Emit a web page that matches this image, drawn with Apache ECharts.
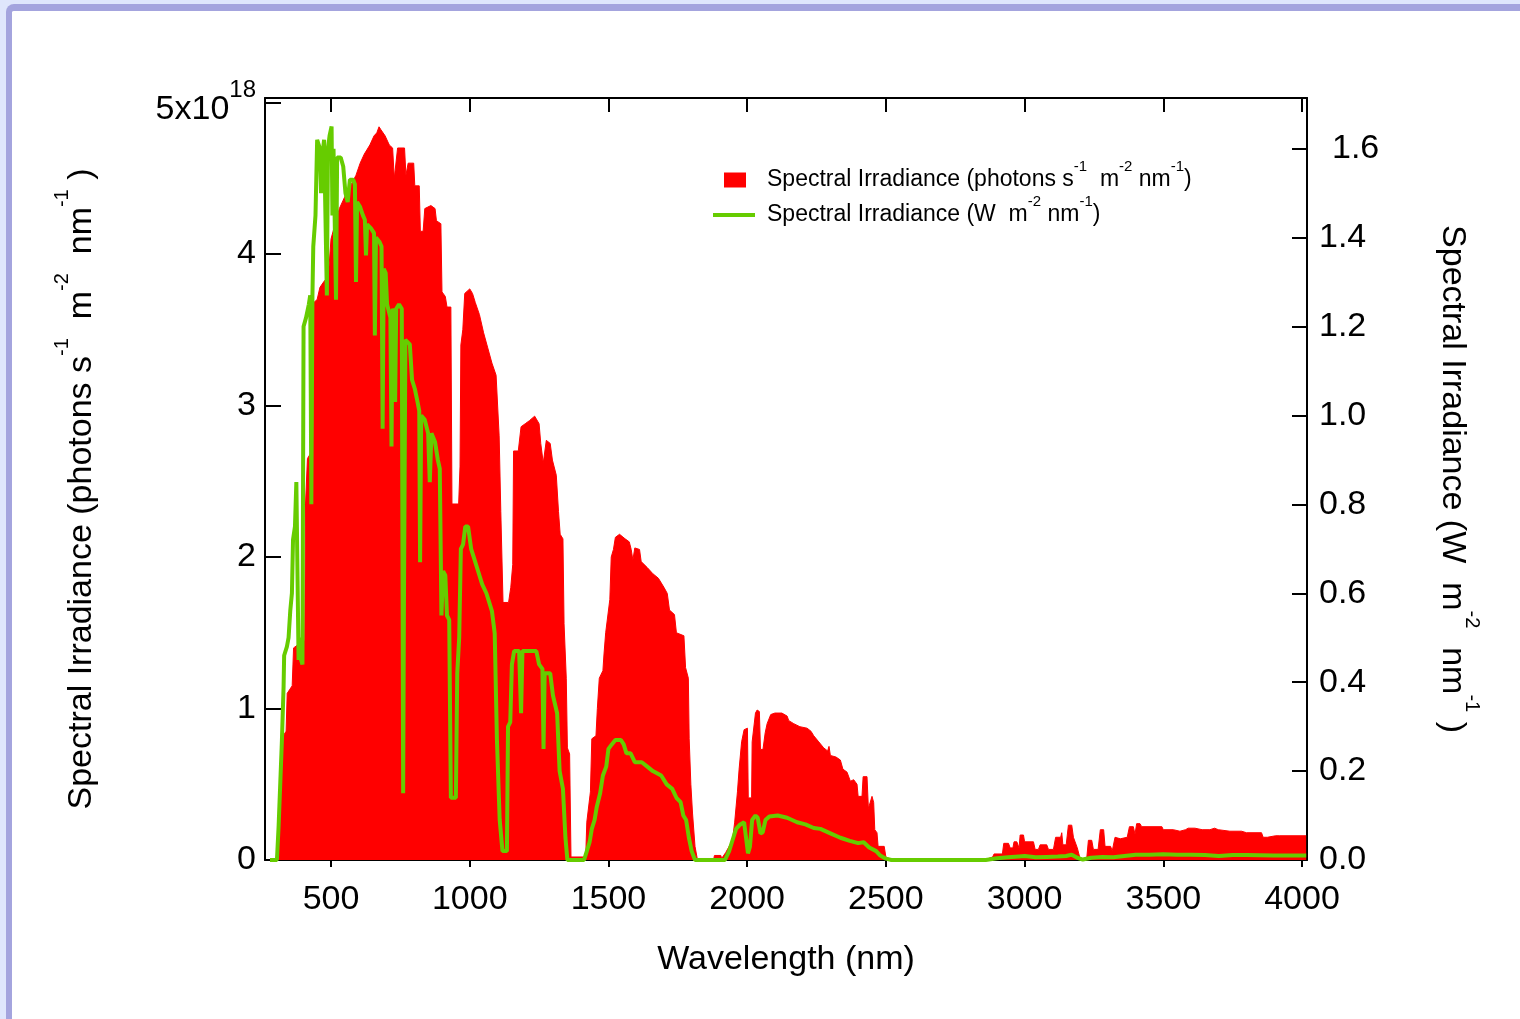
<!DOCTYPE html>
<html>
<head>
<meta charset="utf-8">
<script src="https://cdn.jsdelivr.net/npm/echarts@6/dist/echarts.min.js"></script>
<style>
  body { margin: 0; background: #dfe6fc; width: 1520px; height: 1019px; overflow: hidden; }
  #frame {
    position: absolute; left: 6px; top: 4px; width: 1514px; height: 1015px;
    box-sizing: border-box; border-left: 6px solid #a4a4de; border-top: 7px solid #a4a4de;
    border-top-left-radius: 8px; background: #fff;
  }
  #chart { position: absolute; left: 0; top: 0; width: 1520px; height: 1019px; }
</style>
</head>
<body>
<div id="frame"></div>
<div id="chart"></div>
<script>
// photon flux, in units of 1e18 photons s-1 m-2 nm-1
var wlPhoton = [
  280, 300, 308, 318, 328, 338, 342, 360, 365, 380, 395, 405, 408, 415, 425, 435, 438, 450, 460, 475,
  490, 497, 500, 515, 530, 550, 570, 590, 605, 620, 640, 655, 665, 673, 680, 695, 710, 722, 728, 734,
  740, 765, 770, 778, 798, 802, 818, 822, 832, 838, 860, 875, 880, 896, 900, 912, 918, 932, 936, 960,
  965, 968, 975, 982, 1000, 1010, 1020, 1035, 1050, 1065, 1080, 1095, 1102, 1106, 1112, 1120, 1140, 1148, 1155, 1158,
  1175, 1185, 1200, 1215, 1234, 1250, 1256, 1265, 1272, 1276, 1290, 1298, 1312, 1320, 1326, 1336, 1340, 1348, 1352, 1360,
  1365, 1418, 1422, 1435, 1440, 1455, 1460, 1467, 1480, 1484, 1490, 1505, 1510, 1518, 1525, 1540, 1560, 1575, 1582, 1588,
  1595, 1612, 1618, 1640, 1660, 1680, 1700, 1712, 1720, 1738, 1745, 1772, 1778, 1788, 1791, 1797, 1803, 1812, 1820, 1880,
  1882, 1905, 1908, 1923, 1947, 1955, 1965, 1971, 1980, 1989, 2001, 2004, 2016, 2018, 2030, 2036, 2044, 2048, 2057, 2065,
  2072, 2085, 2100, 2125, 2144, 2150, 2168, 2190, 2216, 2230, 2240, 2258, 2276, 2290, 2295, 2300, 2320, 2336, 2345, 2360,
  2372, 2384, 2396, 2400, 2414, 2418, 2432, 2437, 2444, 2450, 2456, 2460, 2468, 2472, 2494, 2500, 2512, 2520, 2855, 2860,
  2885, 2890, 2920, 2925, 2942, 2948, 2958, 2962, 2972, 2980, 2984, 2996, 3000, 3032, 3038, 3050, 3056, 3080, 3086, 3104,
  3112, 3130, 3134, 3138, 3150, 3158, 3170, 3176, 3190, 3200, 3224, 3230, 3242, 3248, 3265, 3273, 3285, 3290, 3310, 3316,
  3322, 3326, 3345, 3370, 3378, 3392, 3398, 3404, 3416, 3422, 3495, 3500, 3536, 3560, 3580, 3590, 3614, 3640, 3668, 3685,
  3698, 3740, 3782, 3800, 3854, 3860, 3875, 3880, 3905, 3910, 3920, 4000, 4015
];
var photon18 = [
  0, 0, 0.05, 0.6, 0.82, 0.85, 1.1, 1.15, 1.4, 1.42, 1.45, 1.45, 2.35, 2.65, 2.68, 2.72, 3.68, 3.7, 3.78, 3.82,
  3.85, 3.85, 4.1, 4.2, 4.3, 4.38, 4.45, 4.52, 4.6, 4.66, 4.72, 4.78, 4.8, 4.84, 4.82, 4.78, 4.72, 4.7, 4.5, 4.5,
  4.7, 4.7, 4.52, 4.6, 4.6, 4.45, 4.45, 4.15, 4.15, 4.3, 4.32, 4.3, 4.22, 4.2, 3.75, 3.72, 3.65, 3.65, 2.35, 2.35,
  2.6, 3.4, 3.5, 3.74, 3.77, 3.74, 3.68, 3.6, 3.48, 3.38, 3.28, 3.2, 3.19, 2.8, 2.3, 1.7, 1.7, 1.8, 1.95, 2.7,
  2.7, 2.86, 2.88, 2.9, 2.93, 2.88, 2.75, 2.62, 2.62, 2.77, 2.75, 2.64, 2.54, 2.3, 2.15, 2.12, 1.56, 1.2, 0.74, 0.7,
  0.02, 0.02, 0.25, 0.45, 0.8, 0.82, 1.0, 1.2, 1.25, 1.36, 1.5, 1.72, 2.0, 2.05, 2.13, 2.15, 2.12, 2.1, 2.05, 1.98,
  2.06, 2.05, 1.97, 1.93, 1.89, 1.86, 1.8, 1.76, 1.65, 1.62, 1.5, 1.48, 1.27, 1.2, 0.8, 0.5, 0.31, 0.09, 0.01, 0.01,
  0.03, 0.03, 0.01, 0.05, 0.13, 0.25, 0.45, 0.6, 0.78, 0.86, 0.87, 0.41, 0.41, 0.78, 0.97, 0.99, 0.98, 0.73, 0.73, 0.84,
  0.9, 0.96, 0.97, 0.97, 0.95, 0.92, 0.9, 0.88, 0.87, 0.85, 0.82, 0.78, 0.74, 0.72, 0.75, 0.69, 0.68, 0.66, 0.6, 0.58,
  0.52, 0.53, 0.5, 0.42, 0.42, 0.55, 0.55, 0.34, 0.34, 0.42, 0.38, 0.2, 0.18, 0.09, 0.09, 0.02, 0.01, 0, 0, 0.01,
  0.02, 0.04, 0.04, 0.11, 0.11, 0.08, 0.08, 0.12, 0.12, 0.08, 0.165, 0.165, 0.12, 0.12, 0.07, 0.07, 0.1, 0.1, 0.07, 0.07,
  0.15, 0.15, 0.18, 0.1, 0.1, 0.23, 0.23, 0.15, 0.08, 0.01, 0.01, 0.13, 0.13, 0.07, 0.07, 0.2, 0.2, 0.09, 0.09, 0.06,
  0.06, 0.15, 0.14, 0.15, 0.22, 0.22, 0.17, 0.24, 0.24, 0.22, 0.22, 0.2, 0.2, 0.19, 0.2, 0.21, 0.21, 0.2, 0.2, 0.21,
  0.2, 0.19, 0.19, 0.18, 0.18, 0.15, 0.15, 0.16, 0.16, 0.15, 0.16, 0.16, 0.16
];

// energy flux, W m-2 nm-1
var wlWatt = [
  280, 305, 311, 323, 329, 331, 341, 347, 353, 359, 363, 370, 375, 380, 383, 388, 392, 397, 401, 410,
  420, 425, 427, 429, 433, 436, 444, 450, 460, 464, 468, 475, 482, 485, 489, 495, 502, 505, 509, 515,
  518, 522, 535, 544, 552, 560, 568, 580, 586, 590, 594, 604, 615, 622, 626, 630, 645, 655, 658, 662,
  675, 682, 686, 690, 697, 702, 706, 714, 718, 722, 728, 731, 735, 745, 755, 758, 760, 763, 768, 784,
  792, 802, 812, 818, 821, 825, 838, 850, 856, 862, 875, 885, 892, 898, 904, 912, 918, 926, 932, 950,
  955, 962, 968, 976, 984, 994, 1005, 1015, 1030, 1045, 1060, 1080, 1090, 1098, 1108, 1118, 1134, 1138, 1146, 1152,
  1160, 1178, 1185, 1190, 1215, 1240, 1250, 1262, 1266, 1270, 1290, 1300, 1315, 1324, 1336, 1345, 1352, 1412, 1422, 1432,
  1440, 1450, 1458, 1470, 1480, 1492, 1500, 1512, 1525, 1545, 1555, 1565, 1580, 1595, 1620, 1640, 1660, 1690, 1710, 1730,
  1745, 1760, 1770, 1780, 1790, 1800, 1812, 1920, 1935, 1950, 1960, 1975, 1989, 1996, 2003, 2010, 2018, 2030, 2038, 2048,
  2056, 2066, 2080, 2110, 2144, 2180, 2210, 2240, 2264, 2300, 2336, 2370, 2400, 2420, 2440, 2465, 2480, 2500, 2520, 2860,
  2900, 2940, 2980, 3000, 3040, 3080, 3120, 3150, 3170, 3190, 3210, 3240, 3280, 3320, 3360, 3400, 3450, 3500, 3550, 3600,
  3650, 3700, 3750, 3800, 3900, 4000, 4015
];
var watt = [
  0, 0, 0.075, 0.27, 0.39, 0.46, 0.48, 0.5, 0.56, 0.6, 0.72, 0.75, 0.85, 0.85, 0.45, 0.5, 0.45, 0.44, 1.2, 1.22,
  1.25, 1.27, 1.05, 0.8, 1.27, 1.38, 1.45, 1.62, 1.6, 1.5, 1.58, 1.62, 1.62, 1.27, 1.6, 1.63, 1.65, 1.45, 1.6, 1.6,
  1.26, 1.58, 1.58, 1.56, 1.5, 1.48, 1.53, 1.53, 1.52, 1.3, 1.48, 1.47, 1.45, 1.44, 1.36, 1.43, 1.42, 1.41, 1.18, 1.4,
  1.39, 1.38, 0.97, 1.33, 1.32, 1.25, 1.24, 1.22, 0.93, 1.24, 1.23, 1.03, 1.24, 1.25, 1.24, 0.6, 0.15, 0.6, 1.17, 1.16,
  1.08, 1.06, 1.03, 1.01, 0.67, 1.0, 0.99, 0.96, 0.85, 0.96, 0.94, 0.9, 0.88, 0.55, 0.65, 0.64, 0.55, 0.54, 0.14, 0.14,
  0.42, 0.5, 0.7, 0.71, 0.75, 0.75, 0.7, 0.68, 0.65, 0.62, 0.6, 0.56, 0.51, 0.27, 0.09, 0.02, 0.02, 0.3, 0.31, 0.44,
  0.47, 0.47, 0.33, 0.47, 0.47, 0.47, 0.44, 0.43, 0.25, 0.42, 0.42, 0.37, 0.33, 0.2, 0.16, 0.05, 0, 0, 0.02, 0.04,
  0.07, 0.09, 0.12, 0.15, 0.19, 0.21, 0.25, 0.26, 0.27, 0.27, 0.26, 0.24, 0.24, 0.22, 0.22, 0.21, 0.2, 0.19, 0.17, 0.16,
  0.14, 0.13, 0.1, 0.09, 0.05, 0.02, 0, 0, 0.02, 0.05, 0.07, 0.08, 0.085, 0.05, 0.015, 0.03, 0.09, 0.1, 0.095, 0.06,
  0.062, 0.09, 0.098, 0.1, 0.095, 0.085, 0.08, 0.072, 0.07, 0.06, 0.05, 0.043, 0.038, 0.04, 0.028, 0.02, 0.01, 0.003, 0, 0,
  0.004, 0.006, 0.008, 0.009, 0.006, 0.007, 0.008, 0.009, 0.012, 0.005, 0.001, 0.005, 0.007, 0.006, 0.009, 0.012, 0.012, 0.013, 0.012, 0.012,
  0.011, 0.009, 0.011, 0.011, 0.01, 0.01, 0.01
];

var xTicks = [500, 1000, 1500, 2000, 2500, 3000, 3500, 4000];
var yLeftTicks = [0, 1, 2, 3, 4, 5];
var yRightTicks = [0, 0.2, 0.4, 0.6, 0.8, 1.0, 1.2, 1.4, 1.6];

var FONT = "'Liberation Sans', Arial, sans-serif";
var NAME_PHOTON = 'Spectral Irradiance (photons)';
var NAME_WATT = 'Spectral Irradiance (W)';

var chart = echarts.init(document.getElementById('chart'));

// superscripts: top-aligned in a tall line box
var supTitle = { fontSize: 20, fontFamily: FONT, color: '#000', verticalAlign: 'top', lineHeight: 20 };
var supLegend = { fontSize: 15, fontFamily: FONT, color: '#000', verticalAlign: 'top', lineHeight: 14 };

var option = {
  animation: false,
  backgroundColor: 'transparent',
  textStyle: { fontFamily: FONT },
  grid: { left: 265, right: 213, top: 98, bottom: 159, containLabel: false, outerBoundsMode: 'none' },
  legend: [
    {
      data: [NAME_PHOTON],
      left: 724, top: 159, padding: 0,
      itemWidth: 22, itemHeight: 15, icon: 'rect',
      formatter: function () { return 'Spectral Irradiance (photons s{sup|-1}  m{sup|-2} nm{sup|-1})'; },
      textStyle: { fontSize: 23, lineHeight: 42, color: '#000', fontFamily: FONT, padding: [0, 0, 0, 16], rich: { sup: supLegend } }
    },
    {
      data: [NAME_WATT],
      left: 713, top: 194, padding: 0,
      itemWidth: 42, itemHeight: 4, icon: 'rect',
      formatter: function () { return 'Spectral Irradiance (W  m{sup|-2} nm{sup|-1})'; },
      textStyle: { fontSize: 23, lineHeight: 42, color: '#000', fontFamily: FONT, padding: [0, 0, 0, 7], rich: { sup: supLegend } }
    }
  ],
  xAxis: [
    {
      type: 'value', min: 262, max: 4018, position: 'bottom',
      axisLine: { onZero: false, lineStyle: { color: '#000', width: 2 } },
      axisTick: { customValues: xTicks, inside: false, length: 7, lineStyle: { color: '#000', width: 2 } },
      axisLabel: {
        customValues: xTicks, fontSize: 34, color: '#000', margin: 23, fontFamily: FONT,
        formatter: function (v) { return String(v); }
      },
      splitLine: { show: false },
      name: 'Wavelength (nm)', nameLocation: 'middle', nameGap: 83,
      nameTextStyle: { fontSize: 34, color: '#000', fontFamily: FONT }
    },
    {
      type: 'value', min: 262, max: 4018, position: 'top',
      axisLine: { onZero: false, lineStyle: { color: '#000', width: 2 } },
      axisTick: { customValues: xTicks, inside: true, length: 14, lineStyle: { color: '#000', width: 2 } },
      axisLabel: { show: false },
      splitLine: { show: false }
    }
  ],
  yAxis: [
    {
      type: 'value', min: 0, max: 5.03, position: 'left',
      axisLine: { show: true, onZero: false, lineStyle: { color: '#000', width: 2 } },
      axisTick: { show: true, customValues: yLeftTicks, inside: true, length: 16, lineStyle: { color: '#000', width: 2 } },
      axisLabel: {
        customValues: yLeftTicks, fontSize: 34, color: '#000', margin: 9, fontFamily: FONT,
        formatter: function (v) { return v === 5 ? '{base|5x10}{exp|18}' : String(v); },
        rich: {
          base: { fontSize: 34, fontFamily: FONT, color: '#000', padding: [14, 0, 0, 0] },
          exp: { fontSize: 24, fontFamily: FONT, color: '#000', verticalAlign: 'top', lineHeight: 24 }
        }
      },
      splitLine: { show: false },
      name: 'Spectral Irradiance (photons s{sup|-1}  m{sup|-2}  nm{sup|-1} )',
      nameLocation: 'middle', nameRotate: 90, nameGap: 153,
      nameTextStyle: { fontSize: 34, color: '#000', fontFamily: FONT, lineHeight: 60, padding: [0, 20, 0, 0], rich: { sup: supTitle } }
    },
    {
      type: 'value', min: 0, max: 1.714, position: 'right',
      axisLine: { show: true, onZero: false, lineStyle: { color: '#000', width: 2 } },
      axisTick: { show: true, customValues: yRightTicks, inside: true, length: 15, lineStyle: { color: '#000', width: 2 } },
      axisLabel: {
        customValues: yRightTicks, fontSize: 34, color: '#000', margin: 12, fontFamily: FONT,
        formatter: function (v) { return v === 1.6 ? '{shift|1.6}' : v.toFixed(1); },
        rich: { shift: { fontSize: 34, fontFamily: FONT, color: '#000', padding: [0, 0, 0, 13] } }
      },
      splitLine: { show: false },
      name: 'Spectral Irradiance (W  m{sup|-2}  nm{sup|-1} )',
      nameLocation: 'middle', nameRotate: -90, nameGap: 115,
      nameTextStyle: { fontSize: 34, color: '#000', fontFamily: FONT, lineHeight: 60, rich: { sup: supTitle } }
    }
  ],
  series: [
    {
      name: NAME_PHOTON, type: 'line', xAxisIndex: 0, yAxisIndex: 0,
      data: wlPhoton.map(function (w, i) { return [w, photon18[i]]; }),
      showSymbol: false, symbol: 'none',
      color: '#ff0000',
      lineStyle: { color: '#ff0000', width: 1 },
      areaStyle: { color: '#ff0000', opacity: 1 },
      z: 2
    },
    {
      name: NAME_WATT, type: 'line', xAxisIndex: 0, yAxisIndex: 1,
      data: wlWatt.map(function (w, i) { return [w, watt[i]]; }),
      showSymbol: false, symbol: 'none',
      color: '#66cc00',
      lineStyle: { color: '#66cc00', width: 4 },
      z: 3
    }
  ]
};

chart.setOption(option);
</script>
</body>
</html>
